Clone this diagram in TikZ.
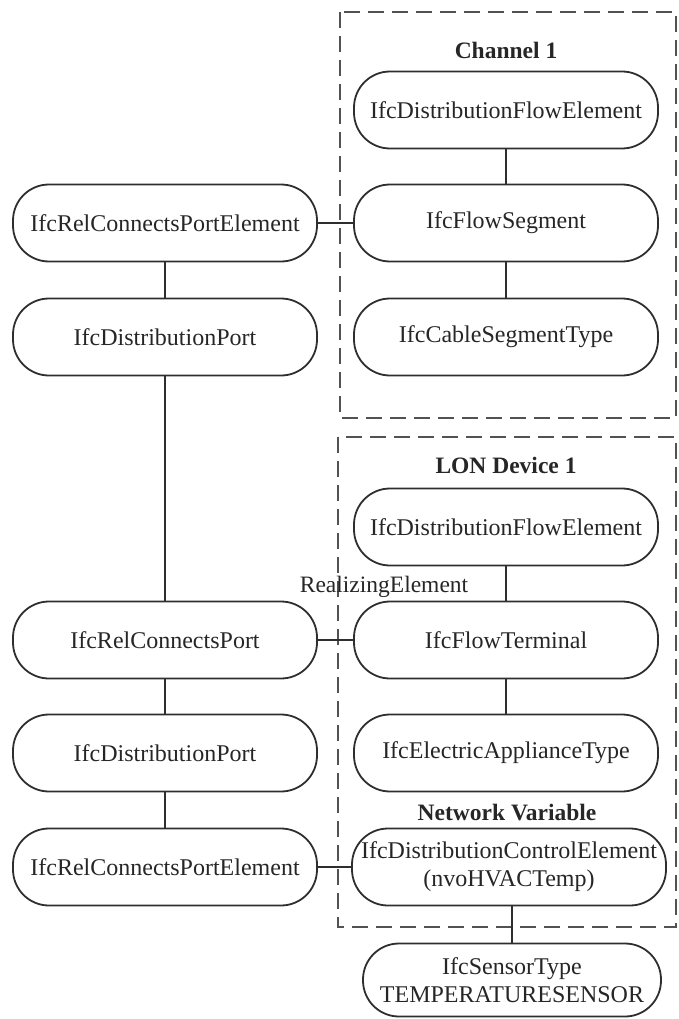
\documentclass[tikz,border=0pt]{standalone}
\usepackage{fontspec}
\setmainfont{Liberation Serif}
\begin{document}
\begin{tikzpicture}[x=1pt,y=-1pt,
  every node/.style={text=black!85},
  entity/.style={draw=black!82, line width=1.8pt, rounded corners=36pt,
    minimum width=304pt, minimum height=77pt, inner sep=0pt, align=center,
    font=\fontsize{24}{28}\selectfont},
  grouplabel/.style={font=\fontsize{23.5}{28}\selectfont\bfseries},
  rolelabel/.style={font=\fontsize{23.5}{28}\selectfont},
  link/.style={draw=black!82, line width=1.8pt},
  groupbox/.style={draw=black!68, line width=2.6pt, dash pattern=on 16pt off 8pt}]

\useasboundingbox (0,0) rectangle (678,1019);

% dashed group frames
\draw[groupbox] (340,12) rectangle (676,418);
\draw[groupbox] (338,437) rectangle (676,927);

% group titles
\node[grouplabel] (chTitle) at (506,50) {Channel 1};
\node[grouplabel] (lonTitle) at (506,465) {LON Device 1};
\node[grouplabel] (nvTitle) at (507,813) {Network Variable};

% channel
\node[entity] (chDfe) at (506,110) {IfcDistributionFlowElement};
\node[entity] (chSeg) at (506,223) {IfcFlowSegment};
\node[entity] (chType) at (506,337) {IfcCableSegmentType};

% left chain
\node[entity] (relA) at (165,223) {IfcRelConnectsPortElement};
\node[entity] (portA) at (165,337) {IfcDistributionPort};
\node[entity] (relP) at (165,640) {IfcRelConnectsPort};
\node[entity] (portB) at (165,753) {IfcDistributionPort};
\node[entity] (relB) at (165,867) {IfcRelConnectsPortElement};

% LON device
\node[entity] (lonDfe) at (506,527) {IfcDistributionFlowElement};
\node[entity] (lonTerm) at (506,640) {IfcFlowTerminal};
\node[entity] (lonType) at (506,753) {IfcElectricApplianceType};
\node[entity, minimum width=314pt] (ctrl) at (509,867) {IfcDistributionControlElement\\(nvoHVACTemp)};
\node[entity, minimum width=298pt, minimum height=73pt] (sensor) at (512,980) {IfcSensorType\\TEMPERATURESENSOR};

\node[rolelabel] (realizing) at (384,587) {RealizingElement};

% connectors
\draw[link] (chDfe) -- (chSeg);
\draw[link] (chSeg) -- (chType);
\draw[link] (relA) -- (chSeg);
\draw[link] (relA) -- (portA);
\draw[link] (portA) -- (relP);
\draw[link] (relP) -- (lonTerm);
\draw[link] (relP) -- (portB);
\draw[link] (portB) -- (relB);
\draw[link] (relB) -- (ctrl);
\draw[link] (lonDfe) -- (lonTerm);
\draw[link] (lonTerm) -- (lonType);
\draw[link] (sensor.north) -- (sensor.north |- ctrl.south);
\end{tikzpicture}
\end{document}
